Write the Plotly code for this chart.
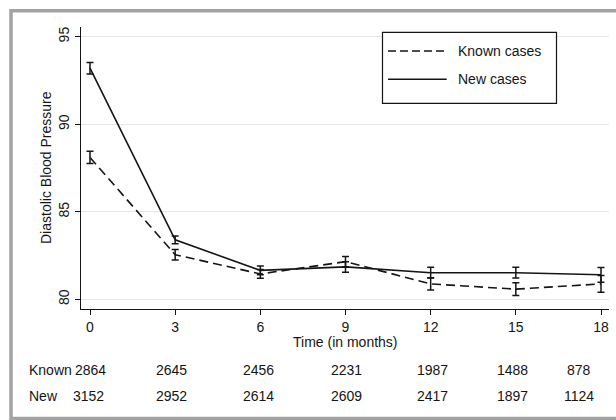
import plotly.graph_objects as go

# ---- data ----
months = [0, 3, 6, 9, 12, 15, 18]
known_mean = [88.1, 82.55, 81.45, 82.15, 80.88, 80.58, 80.88]
known_err = [0.35, 0.3, 0.25, 0.3, 0.35, 0.36, 0.48]
new_mean = [93.2, 83.4, 81.65, 81.85, 81.52, 81.52, 81.4]
new_err = [0.33, 0.22, 0.25, 0.3, 0.31, 0.31, 0.42]
known_n = [2864, 2645, 2456, 2231, 1987, 1488, 878]
new_n = [3152, 2952, 2614, 2609, 2417, 1897, 1124]
yticks = [80, 85, 90, 95]
series_names = ["Known cases", "New cases"]
row_labels = ["Known", "New"]

# ---- style ----
FONT = "Liberation Sans, Arial, Helvetica, sans-serif"
INK = "#151515"
n_xshift = [0, -4, -2, 1, 2, -3, -22]

fig = go.Figure()
fig.add_trace(go.Scatter(
    x=months, y=known_mean, mode="lines", name=series_names[0],
    line=dict(color=INK, width=1.6, dash="9px,5px"),
    error_y=dict(type="data", array=known_err, visible=True, color=INK, thickness=1.5, width=3.5),
    showlegend=False))
fig.add_trace(go.Scatter(
    x=months, y=new_mean, mode="lines", name=series_names[1],
    line=dict(color=INK, width=1.6),
    error_y=dict(type="data", array=new_err, visible=True, color=INK, thickness=1.5, width=3.5),
    showlegend=False))

L, R, T, B = 81, 7, 27, 111
W, H = 616, 420
pw, ph = W - L - R, H - T - B

def px_x(p):
    return (p - L) / pw

def px_y(p):
    return (H - B - p) / ph

shapes = []
# outer gray frame
shapes.append(dict(type="rect", xref="paper", yref="paper",
                   x0=px_x(11), x1=px_x(625), y0=px_y(418.5), y1=px_y(10.7),
                   line=dict(color="#a3a3a3", width=3.5), layer="above"))
# legend box
shapes.append(dict(type="rect", xref="paper", yref="paper",
                   x0=px_x(382.5), x1=px_x(556.5), y0=px_y(103.3), y1=px_y(32.3),
                   line=dict(color=INK, width=1.2), fillcolor="white"))
leg_y = [51, 79.3]
leg_dash = ["8px,4px", "solid"]
annotations = []
for i in range(2):
    shapes.append(dict(type="line", xref="paper", yref="paper",
                       x0=px_x(388), x1=px_x(446.7), y0=px_y(leg_y[i]), y1=px_y(leg_y[i]),
                       line=dict(color=INK, width=1.5, dash=leg_dash[i])))
    annotations.append(dict(xref="paper", yref="paper", x=px_x(455.5), y=px_y(leg_y[i]),
                            text=series_names[i], showarrow=False, xanchor="left", yanchor="middle",
                            font=dict(family=FONT, size=14, color=INK)))

# axis titles
annotations.append(dict(xref="paper", yref="paper", x=0.5, y=px_y(342), text="Time (in months)",
                        showarrow=False, xanchor="center", yanchor="middle",
                        font=dict(family=FONT, size=14, color=INK)))
annotations.append(dict(xref="paper", yref="paper", x=px_x(46), y=0.5, text="Diastolic Blood Pressure",
                        showarrow=False, xanchor="center", yanchor="middle", textangle=-90,
                        font=dict(family=FONT, size=14, color=INK)))

# number-at-risk table
row_y = [370, 396]
counts = [known_n, new_n]
for r in range(2):
    annotations.append(dict(xref="paper", yref="paper", x=px_x(27), y=px_y(row_y[r]),
                            text=row_labels[r], showarrow=False, xanchor="left", yanchor="middle",
                            font=dict(family=FONT, size=14, color=INK)))
    for j, m in enumerate(months):
        annotations.append(dict(xref="x", yref="paper", x=m, y=px_y(row_y[r]),
                                text=str(counts[r][j]), showarrow=False, xanchor="center",
                                yanchor="middle", xshift=n_xshift[j] + (-2 if (r == 1 and j == 0) else 0),
                                font=dict(family=FONT, size=14, color=INK)))

fig.update_layout(
    width=W, height=H,
    margin=dict(l=L, r=R, t=T, b=B, pad=0),
    paper_bgcolor="white", plot_bgcolor="white",
    font=dict(family=FONT, size=14, color=INK),
    shapes=shapes, annotations=annotations,
    xaxis=dict(range=[-9 / 28.39, 18 + 8 / 28.39], tickvals=months, ticktext=[str(m) for m in months],
               showgrid=False, zeroline=False, showline=True, linecolor=INK, linewidth=1.2,
               ticks="outside", ticklen=5, tickcolor=INK, tickwidth=1.2,
               tickfont=dict(family=FONT, size=14, color=INK)),
    yaxis=dict(range=[79.446, 95.554], tickvals=yticks, ticktext=[str(v) for v in yticks],
               tickangle=-90, showgrid=True, gridcolor="#e6e6e6", gridwidth=1, zeroline=False,
               showline=True, linecolor=INK, linewidth=1.2,
               ticks="outside", ticklen=5, tickcolor=INK, tickwidth=1.2,
               tickfont=dict(family=FONT, size=14, color=INK)),
)

fig.write_html("out.html", config={"displayModeBar": False},
               post_script="document.body.style.margin='0';document.body.style.overflow='hidden';")
